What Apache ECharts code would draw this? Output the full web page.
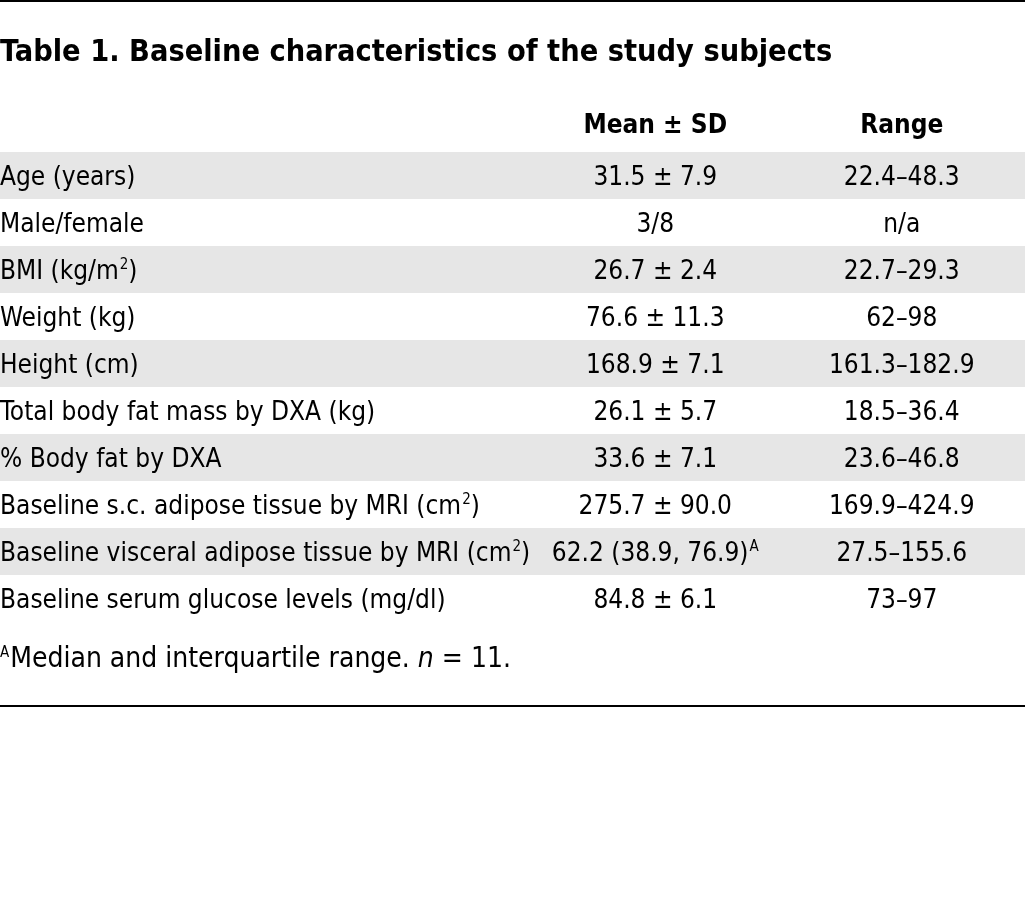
<!DOCTYPE html>
<html>
<head>
<meta charset="utf-8">
<script src="https://cdn.jsdelivr.net/npm/echarts@6/dist/echarts.min.js"></script>
<style>html,body{margin:0;padding:0;background:#fff;}#main{width:1025px;height:899px;}</style>
</head>
<body>
<div id="main"></div>
<script>
const titleText = 'Table 1. Baseline characteristics of the study subjects';
const columnHeaders = ['Mean ± SD', 'Range'];
const rowLabels = [
  'Age (years)',
  'Male/female',
  'BMI (kg/m^2)',
  'Weight (kg)',
  'Height (cm)',
  'Total body fat mass by DXA (kg)',
  '% Body fat by DXA',
  'Baseline s.c. adipose tissue by MRI (cm^2)',
  'Baseline visceral adipose tissue by MRI (cm^2)',
  'Baseline serum glucose levels (mg/dl)'
];
const meanSD = [
  '31.5 ± 7.9', '3/8', '26.7 ± 2.4', '76.6 ± 11.3', '168.9 ± 7.1',
  '26.1 ± 5.7', '33.6 ± 7.1', '275.7 ± 90.0', '62.2 (38.9, 76.9)^A', '84.8 ± 6.1'
];
const ranges = [
  '22.4–48.3', 'n/a', '22.7–29.3', '62–98', '161.3–182.9',
  '18.5–36.4', '23.6–46.8', '169.9–424.9', '27.5–155.6', '73–97'
];
const footnote = ['A', 'Median and interquartile range. ', 'n', ' = 11.'];

const FONT = '"Liberation Sans Narrow", "DejaVu Sans Condensed", "Roboto Condensed", Roboto, sans-serif';
const FS = 26;

function richify(s) {
  return s.split(/(\^\w)/).filter(p => p.length).map(p =>
    p[0] === '^' ? '{s|' + p.slice(1) + '}' : '{n|' + p + '}'
  ).join('');
}
const rich = {
  n: { fontFamily: FONT, fontSize: FS, color: '#000', lineHeight: 32 },
  s: { fontFamily: FONT, fontSize: 15, color: '#000', verticalAlign: 'top', lineHeight: 15, padding: [1, 0, 0, 1] }
};

const cellData = [];
rowLabels.forEach((r, i) => {
  cellData.push({ value: [0, i], name: meanSD[i] });
  cellData.push({ value: [1, i], name: ranges[i] });
});

const chart = echarts.init(document.getElementById('main'), null, { renderer: 'canvas' });
chart.setOption({
  backgroundColor: '#fff',
  animation: false,
  title: {
    text: titleText, left: 0, top: 38, padding: 0,
    textStyle: { fontFamily: FONT, fontSize: 30.4, fontWeight: 'bold', color: '#000' }
  },
  grid: [
    { left: 0, right: 0, top: 152, height: 470, outerBoundsMode: 'none', containLabel: false },
    { left: 532, right: 0, top: 152, height: 470, outerBoundsMode: 'none', containLabel: false }
  ],
  xAxis: [
    { gridIndex: 0, type: 'value', min: 0, max: 1, show: false },
    { gridIndex: 1, type: 'category', data: columnHeaders, position: 'top',
      axisLine: { show: false }, axisTick: { show: false }, splitLine: { show: false },
      axisLabel: { margin: 13, fontFamily: FONT, fontSize: FS, fontWeight: 'bold', color: '#000' } }
  ],
  yAxis: [
    { gridIndex: 0, type: 'category', data: rowLabels, inverse: true,
      axisLine: { show: false }, axisTick: { show: false },
      splitArea: { show: true, areaStyle: { color: ['#e6e6e6', '#ffffff'] } },
      axisLabel: { inside: true, margin: 0, padding: [6, 0, 0, 0], color: '#000',
        formatter: v => richify(v), rich: rich } },
    { gridIndex: 1, type: 'category', data: rowLabels.map((_, i) => i), inverse: true, show: false }
  ],
  series: [{
    type: 'scatter', xAxisIndex: 1, yAxisIndex: 1, symbolSize: 0,
    data: cellData,
    itemStyle: { opacity: 1 },
    label: { show: true, position: 'inside', color: '#000', padding: [6, 0, 0, 0],
      formatter: p => richify(p.name), rich: rich }
  }],
  graphic: [
    { type: 'rect', left: 0, top: 0, shape: { width: 1025, height: 2 }, style: { fill: '#000' } },
    { type: 'rect', left: 0, top: 705, shape: { width: 1025, height: 2 }, style: { fill: '#000' } },
    { type: 'text', left: 0, top: 643,
      style: {
        text: '{s|' + footnote[0] + '}{n|' + footnote[1] + '}{i|' + footnote[2] + '}{n|' + footnote[3] + '}',
        rich: {
          n: { fontFamily: FONT, fontSize: 28, fill: '#000', lineHeight: 34 },
          i: { fontFamily: FONT, fontSize: 28, fontStyle: 'italic', fill: '#000', lineHeight: 34 },
          s: { fontFamily: FONT, fontSize: 15, fill: '#000', verticalAlign: 'top', lineHeight: 34, padding: [3, 1, 0, 0] }
        }
      } }
  ]
});
</script>
</body>
</html>
